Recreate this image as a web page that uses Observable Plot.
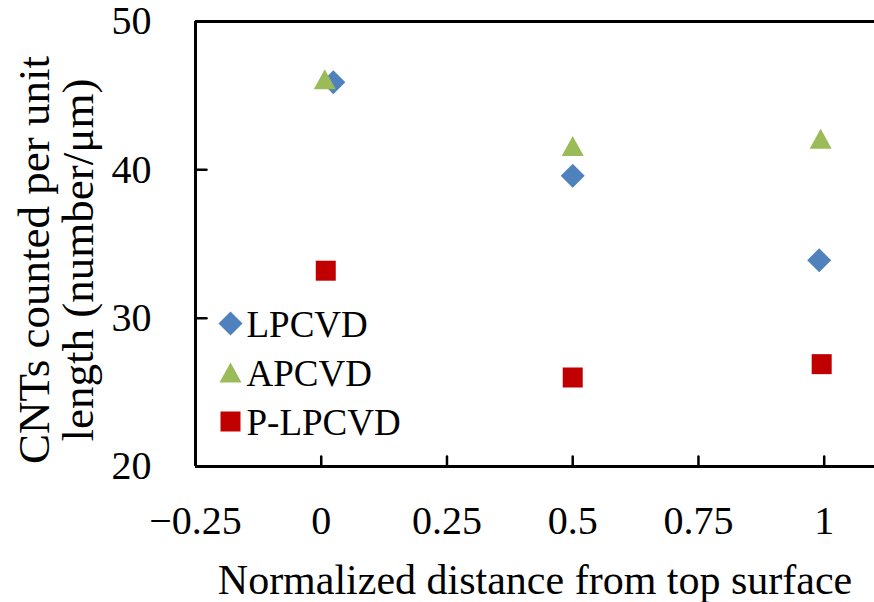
<!DOCTYPE html>
<html><head><meta charset="utf-8">
<script src="https://cdn.jsdelivr.net/npm/d3@7"></script>
<script src="https://cdn.jsdelivr.net/npm/@observablehq/plot@0.6"></script>
<style>html,body{margin:0;padding:0;background:#fff} svg{display:block}</style>
</head><body><div id="chart"></div>
<script>
// ---- data ----
const seriesNames = ["LPCVD", "APCVD", "P-LPCVD"];
const lpcvdX = [0.024, 0.5, 0.99];
const lpcvdY = [45.9, 39.6, 33.9];
const apcvdX = [0.007, 0.5, 0.993];
const apcvdY = [46.1, 41.6, 42.1];
const plpcvdX = [0.009, 0.5, 0.995];
const plpcvdY = [33.2, 26.0, 26.9];
const xTickValues = [-0.25, 0, 0.25, 0.5, 0.75, 1];
const yTickValues = [20, 30, 40, 50];
const xInnerTicks = [0, 0.25, 0.5, 0.75, 1];
const yInnerTicks = [30, 40];
const xDomain = [-0.25, 1.1];
const yDomain = [20, 50];
const xTitle = "Normalized distance from top surface";
const yTitle = ["CNTs counted per unit", "length (number/μm)"];

// ---- styles ----
const colors = ["#4F81BD", "#9BBB59", "#C00000"];
const FONT = "'Liberation Serif', 'Times New Roman', serif";
const symDiamond = {draw(ctx, size) { const r = Math.sqrt(size / Math.PI) * 1.2; ctx.moveTo(0, -r); ctx.lineTo(r, 0); ctx.lineTo(0, r); ctx.lineTo(-r, 0); ctx.closePath(); }};
const symTriangle = {draw(ctx, size) { const r = Math.sqrt(size / Math.PI); ctx.moveTo(0, -r); ctx.lineTo(r * 1.1, r); ctx.lineTo(-r * 1.1, r); ctx.closePath(); }};
const symSquare = {draw(ctx, size) { const r = Math.sqrt(size / Math.PI); ctx.rect(-r, -r, 2 * r, 2 * r); }};
const symbols = [symDiamond, symTriangle, symSquare];
const tickShape = {draw(ctx, l) { ctx.moveTo(0, 0); ctx.lineTo(0, -l); }};

const seriesData = [
  lpcvdX.map((x, i) => ({x, y: lpcvdY[i]})),
  apcvdX.map((x, i) => ({x, y: apcvdY[i]})),
  plpcvdX.map((x, i) => ({x, y: plpcvdY[i]}))
];
const fmt = d => d < 0 ? "\u2212" + Math.abs(d) : String(d);

const legendMarks = seriesNames.flatMap((name, i) => [
  Plot.dot([name], {x: () => xDomain[0], y: () => yDomain[0], dx: 35, dy: -143 + 49 * i, r: 10, symbol: symbols[i], fill: colors[i], stroke: "none"}),
  Plot.text([name], {x: () => xDomain[0], y: () => yDomain[0], text: d => d, dx: 51, dy: -141 + 49 * i, textAnchor: "start", lineAnchor: "middle", fontSize: 37, fill: "black"})
]);

const chart = Plot.plot({
  width: 874,
  height: 602,
  marginLeft: 195,
  marginTop: 21,
  marginBottom: 136,
  marginRight: 0,
  style: {fontFamily: FONT, background: "white", color: "black"},
  x: {domain: xDomain},
  y: {domain: yDomain},
  marks: [
    Plot.ruleX([xDomain[1]], {stroke: "#e4e4e4", strokeWidth: 1}),
    Plot.ruleY([yDomain[1]], {stroke: "black", strokeWidth: 3}),
    Plot.ruleY([yDomain[0]], {stroke: "black", strokeWidth: 3}),
    Plot.ruleX([xDomain[0]], {stroke: "black", strokeWidth: 3}),
    Plot.vector(xInnerTicks, {x: d => d, y: () => yDomain[0], length: 10, rotate: 0, anchor: "start", shape: tickShape, stroke: "black", strokeWidth: 2.5}),
    Plot.vector(yInnerTicks, {x: () => xDomain[0], y: d => d, length: 11, rotate: 90, anchor: "start", shape: tickShape, stroke: "black", strokeWidth: 2.5}),
    Plot.axisX(xTickValues, {tickSize: 0, tickPadding: 39, tickFormat: fmt, fontSize: 40, label: null}),
    Plot.axisY(yTickValues, {tickSize: 0, tickPadding: 44, tickFormat: fmt, fontSize: 40, label: null}),
    ...seriesData.map((data, i) => Plot.dot(data, {x: "x", y: "y", r: 10, symbol: symbols[i], fill: colors[i], stroke: "none"})),
    ...legendMarks,
    Plot.text([xTitle], {x: () => (xDomain[0] + xDomain[1]) / 2, y: () => yDomain[0], text: d => d, dy: 114, lineAnchor: "middle", fontSize: 42, fill: "black"}),
    Plot.text([yTitle.join("\n")], {x: () => xDomain[0], y: () => (yDomain[0] + yDomain[1]) / 2, text: d => d, dx: -139, dy: 16, rotate: -90, lineAnchor: "middle", lineHeight: 0.98, fontSize: 45, fill: "black"})
  ]
});
document.getElementById("chart").appendChild(chart);
</script>
</body></html>
